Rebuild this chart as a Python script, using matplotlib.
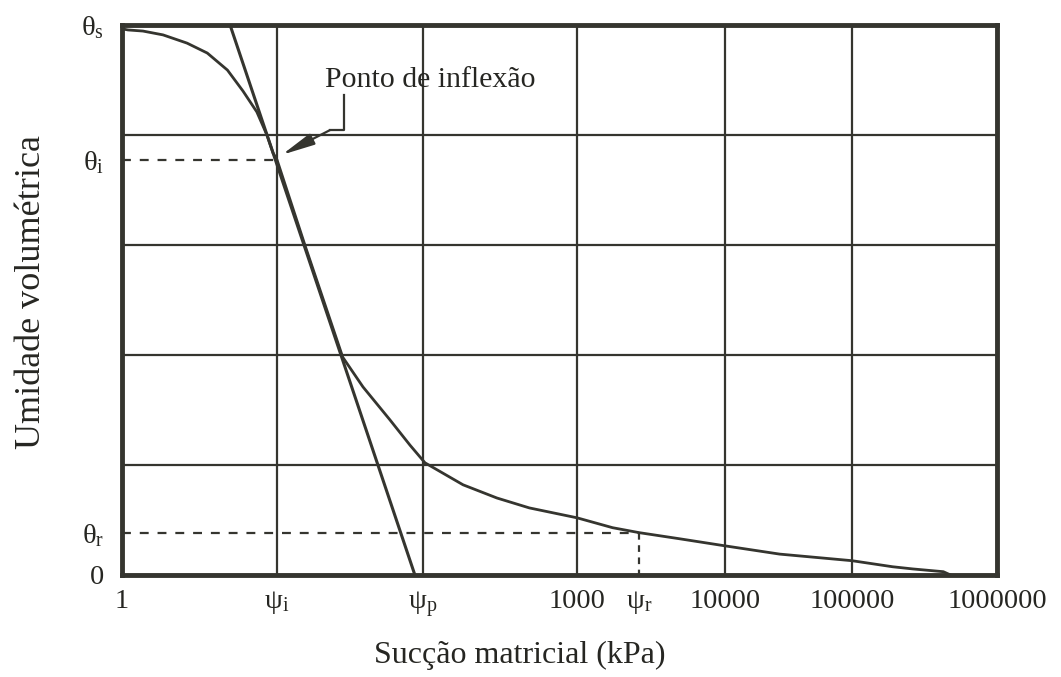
import matplotlib
matplotlib.use("Agg")
import matplotlib.pyplot as plt
import matplotlib.ticker as mticker
import numpy as np

plt.rcParams['font.family'] = ['Liberation Serif', 'DejaVu Serif']
plt.rcParams['mathtext.fontset'] = 'custom'
plt.rcParams['mathtext.rm'] = 'Liberation Serif'
plt.rcParams['mathtext.it'] = 'Liberation Serif'

# Retention curve (suction kPa, normalised volumetric water content)
psi = [1, 1.094, 1.365, 1.84, 2.63, 3.55, 4.79, 6.03, 7.41, 8.61, 9.44, 10,
       12.3, 15.7, 20.8, 28.2, 38.8, 59.4, 81.5, 103, 182, 302, 490, 1000,
       1740, 2630, 4900, 10000, 26900, 100000, 190500, 263000, 426600, 478600]
theta = [0.993, 0.991, 0.989, 0.982, 0.967, 0.949, 0.918, 0.880, 0.842, 0.800,
         0.767, 0.755, 0.682, 0.596, 0.500, 0.396, 0.342, 0.282, 0.236, 0.204,
         0.164, 0.140, 0.122, 0.104, 0.086, 0.077, 0.066, 0.053, 0.038, 0.026,
         0.015, 0.011, 0.006, 0.0]

# Tangent through the inflection point
tan_psi = [4.98, 88.0]
tan_theta = [1.0, 0.0]

theta_s, theta_i, theta_r = 1.0, 0.755, 0.077
psi_i, psi_p, psi_r = 10, 100, 2630

xgrid = [1, 10, 100, 1000, 10000, 100000, 1000000]
ygrid = [0.0, 0.2, 0.4, 0.6, 0.8, 1.0]

xtick_pos = [1, psi_i, psi_p, 1000, psi_r, 10000, 100000, 1000000]
xtick_lab = ['1', r'ψ$_{\mathrm{i}}$', r'ψ$_{\mathrm{p}}$', '1000', r'ψ$_{\mathrm{r}}$',
             '10000', '100000', '1000000']
ytick_pos = [0.0, theta_r, theta_i, theta_s]
ytick_lab = ['0', r'θ$_{\mathrm{r}}$', r'θ$_{\mathrm{i}}$', r'θ$_{\mathrm{s}}$']

ink = '#35352f'
txt = '#262622'

# decade positions of the (hand-drawn) original log axis, in pixels
dec_log = [-3, 0, 1, 2, 3, 4, 5, 6, 9]
dec_px = [-343, 122, 277, 423, 577, 725, 852, 997, 1432]


def fwd(x):
    x = np.asarray(x, dtype=float)
    lx = np.log10(np.clip(x, 1e-3, 1e9))
    return np.interp(lx, dec_log, dec_px)


def inv(v):
    v = np.asarray(v, dtype=float)
    return 10.0 ** np.interp(v, dec_px, dec_log)


fig = plt.figure(figsize=(10.61, 6.77), dpi=100)
ax = fig.add_axes([122/1061, 1-575/677, (997-122)/1061, (575-25)/677])
ax.set_xscale('function', functions=(fwd, inv))
ax.set_xlim(1, 1e6)
ax.set_ylim(0, 1)

for g in xgrid:
    ax.axvline(g, color=ink, lw=1.6, zorder=1)
for g in ygrid:
    ax.axhline(g, color=ink, lw=1.6, zorder=1)

ax.plot(psi, theta, color=ink, lw=2.0, zorder=3, solid_joinstyle='round')
ax.plot(tan_psi, tan_theta, color=ink, lw=2.2, zorder=3)

ax.plot([1, psi_i], [theta_i, theta_i], color=ink, lw=1.6, ls=(0, (4, 4)), zorder=2)
ax.plot([1, psi_r], [theta_r, theta_r], color=ink, lw=1.6, ls=(0, (4, 4)), zorder=2)
ax.plot([psi_r, psi_r], [theta_r, -0.01], color=ink, lw=1.6, ls=(0, (3, 2.5)),
        zorder=2, clip_on=False)

# Annotation
ax.text(21.3, 0.887, 'Ponto de inflexão', fontsize=21.5, va='baseline', ha='left',
        color=txt)
ax.plot([28.8, 28.8, 23.1], [0.873, 0.809, 0.809], color=ink, lw=1.6, zorder=4)
ax.annotate('', xy=(10.8, 0.764), xytext=(23.1, 0.809),
            arrowprops=dict(arrowstyle='-|>,head_length=1.0,head_width=0.18',
                            mutation_scale=20, color=ink, lw=1.6,
                            shrinkA=0, shrinkB=0), zorder=4)

ax.xaxis.set_major_locator(mticker.FixedLocator(xtick_pos))
ax.xaxis.set_minor_locator(mticker.NullLocator())
ax.set_xticklabels(xtick_lab)
ax.set_yticks(ytick_pos)
ax.set_yticklabels(ytick_lab)
ax.tick_params(length=0, labelsize=20.5, colors=txt)
ax.tick_params(axis='x', pad=10)
ax.tick_params(axis='y', pad=13)

for s in ax.spines.values():
    s.set_linewidth(3.5)
    s.set_color(ink)

ax.set_xlabel('Sucção matricial (kPa)', fontsize=23, color=txt)
ax.xaxis.label.set_va('center')
ax.xaxis.set_label_coords((520-122)/875, -(655-575)/550, transform=ax.transAxes)
ax.set_ylabel('Umidade volumétrica', fontsize=26, color=txt)
ax.yaxis.label.set_va('center')
ax.yaxis.set_label_coords(-(122-31)/875, (575-292)/550, transform=ax.transAxes)

fig.savefig('out.png', dpi=100)
